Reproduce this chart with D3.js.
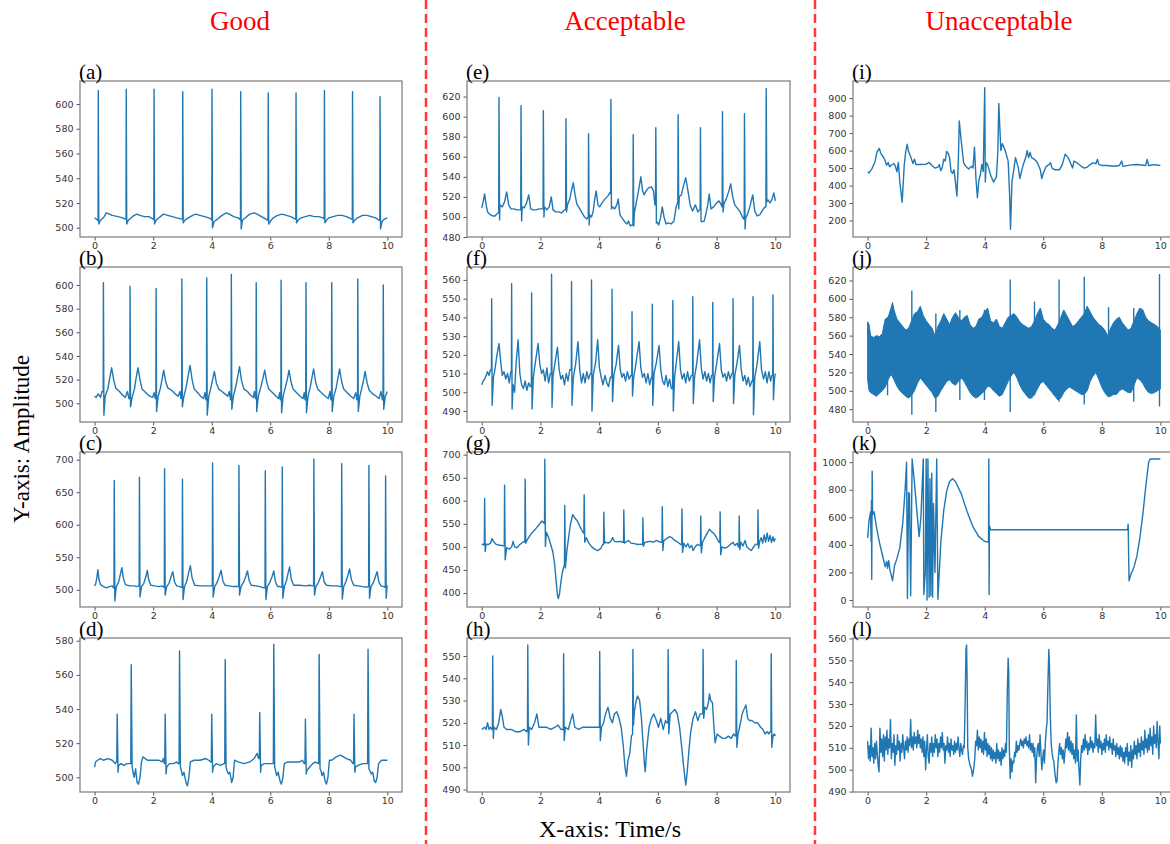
<!DOCTYPE html>
<html>
<head>
<meta charset="utf-8">
<script src="https://cdn.jsdelivr.net/npm/d3@7"></script>
<style>
  body { margin: 0; background: #fff; }
  svg { display: block; }
</style>
</head>
<body>
<div id="chart"></div>
<script>
// ---- data ----
const xTicks = [0, 2, 4, 6, 8, 10];
const columnTitles = ['Good', 'Acceptable', 'Unacceptable'];
const panelNames = ['a', 'b', 'c', 'd', 'e', 'f', 'g', 'h', 'i', 'j', 'k', 'l'];

// y limits and tick labels of each panel
const yDomainA = [492.5, 618.6], yTicksA = [500, 520, 540, 560, 580, 600];
const yDomainB = [484.2, 615.2], yTicksB = [500, 520, 540, 560, 580, 600];
const yDomainC = [473.6, 711.8], yTicksC = [500, 550, 600, 650, 700];
const yDomainD = [491.4, 581.6], yTicksD = [500, 520, 540, 560, 580];
const yDomainE = [480, 635.5], yTicksE = [480, 500, 520, 540, 560, 580, 600, 620];
const yDomainF = [484.1, 566.9], yTicksF = [490, 500, 510, 520, 530, 540, 550, 560];
const yDomainG = [369.5, 705.8], yTicksG = [400, 450, 500, 550, 600, 650, 700];
const yDomainH = [488.9, 558.1], yTicksH = [490, 500, 510, 520, 530, 540, 550];
const yDomainI = [105.7, 998], yTicksI = [200, 300, 400, 500, 600, 700, 800, 900];
const yDomainJ = [466, 634.7], yTicksJ = [480, 500, 520, 540, 560, 580, 600, 620];
const yDomainK = [-51, 1074], yTicksK = [0, 200, 400, 600, 800, 1000];
const yDomainL = [489.8, 560.2], yTicksL = [490, 500, 510, 520, 530, 540, 550, 560];

// beats: [time, value before, R peak, S dip]; waves: [time, value]
const beatsA = [[0.125, 506, 611, 503], [1.08, 507, 612, 503], [2.03, 507, 612, 503], [3.01, 507, 610, 504],
  [4.01, 506, 612, 500], [4.99, 506, 610, 499], [5.93, 507, 609, 503], [6.88, 507, 609, 504],
  [7.85, 507, 611, 504], [8.81, 507, 610, 504], [9.75, 506, 606, 499]];
const waveA = [[0, 508], [0.05, 507], [0.1, 506],
  [0.2, 506], [0.3, 508], [0.4, 512], [0.5, 511], [0.6, 510], [0.8, 509], [0.95, 508], [1.05, 507],
  [1.15, 506], [1.25, 508], [1.35, 510], [1.45, 511], [1.55, 510], [1.7, 509], [1.85, 509], [2.0, 507],
  [2.1, 506], [2.2, 508], [2.35, 511], [2.5, 510], [2.65, 509], [2.8, 508], [2.98, 507],
  [3.08, 506], [3.2, 508], [3.35, 510], [3.45, 511], [3.6, 510], [3.75, 509], [3.9, 508], [3.98, 507],
  [4.08, 505], [4.2, 507], [4.35, 510], [4.5, 512], [4.6, 511], [4.75, 509], [4.9, 508], [4.96, 507],
  [5.05, 506], [5.15, 508], [5.3, 511], [5.45, 512], [5.55, 511], [5.7, 509], [5.85, 507], [5.9, 506],
  [6.0, 505], [6.1, 508], [6.25, 510], [6.4, 511], [6.55, 510], [6.7, 509], [6.85, 507],
  [6.95, 506], [7.05, 508], [7.2, 509], [7.35, 510], [7.5, 509], [7.65, 509], [7.8, 508],
  [7.92, 506], [8.0, 508], [8.15, 509], [8.3, 510], [8.45, 510], [8.6, 509], [8.78, 507],
  [8.88, 506], [8.98, 508], [9.15, 510], [9.3, 510], [9.45, 509], [9.6, 508], [9.72, 506],
  [9.82, 505], [9.9, 507], [10.0, 508]];

const beatsB = [[0.30, 510, 602, 490], [1.21, 504, 599, 497], [2.10, 504, 597, 493], [2.98, 504, 605, 497],
  [3.83, 503, 606, 490], [4.67, 503, 609, 495], [5.52, 504, 602, 493], [6.37, 503, 604, 492],
  [7.22, 503, 602, 492], [8.10, 503, 602, 493], [8.99, 503, 605, 493], [9.86, 503, 600, 495]];
const waveB = [[0, 506], [0.05, 505], [0.12, 508], [0.2, 505], [0.25, 510],
  [0.36, 506], [0.45, 512], [0.52, 522], [0.58, 530], [0.65, 520], [0.72, 513], [0.85, 510], [0.95, 507], [1.05, 505], [1.12, 510], [1.17, 504],
  [1.28, 505], [1.36, 512], [1.42, 522], [1.48, 530], [1.55, 520], [1.62, 512], [1.75, 509], [1.88, 506], [1.98, 505], [2.03, 509], [2.07, 504],
  [2.17, 506], [2.25, 513], [2.31, 521], [2.36, 528], [2.43, 518], [2.5, 513], [2.63, 511], [2.75, 508], [2.85, 506], [2.92, 510], [2.95, 504],
  [3.05, 506], [3.13, 514], [3.2, 524], [3.26, 532], [3.33, 520], [3.4, 512], [3.52, 509], [3.62, 506], [3.72, 504], [3.77, 509], [3.8, 503],
  [3.9, 506], [3.97, 513], [4.03, 520], [4.09, 527], [4.16, 517], [4.24, 512], [4.35, 510], [4.45, 508], [4.55, 506], [4.6, 510], [4.64, 503],
  [4.74, 506], [4.82, 514], [4.89, 523], [4.95, 531], [5.02, 519], [5.1, 512], [5.22, 510], [5.32, 507], [5.42, 505], [5.46, 510], [5.49, 504],
  [5.59, 506], [5.67, 513], [5.74, 520], [5.81, 528], [5.88, 518], [5.95, 512], [6.08, 509], [6.2, 506], [6.28, 504], [6.32, 509], [6.34, 503],
  [6.44, 506], [6.51, 513], [6.58, 520], [6.64, 528], [6.71, 518], [6.78, 512], [6.9, 509], [7.02, 506], [7.12, 504], [7.16, 509], [7.19, 503],
  [7.29, 506], [7.36, 513], [7.42, 521], [7.48, 529], [7.55, 518], [7.62, 512], [7.75, 509], [7.88, 506], [7.98, 504], [8.04, 510], [8.07, 503],
  [8.17, 506], [8.25, 513], [8.31, 521], [8.37, 529], [8.44, 518], [8.51, 512], [8.63, 509], [8.75, 506], [8.85, 504], [8.92, 509], [8.96, 503],
  [9.06, 506], [9.13, 513], [9.19, 520], [9.24, 527], [9.31, 517], [9.38, 511], [9.5, 508], [9.62, 506], [9.72, 504], [9.78, 510], [9.83, 503],
  [9.93, 506], [10.0, 510]];

const beatsC = [[0.67, 503, 668, 483], [1.53, 506, 673, 489], [2.39, 504, 686, 492], [3.00, 504, 670, 485],
  [4.03, 506, 695, 489], [4.93, 505, 691, 492], [5.83, 503, 683, 485], [6.41, 504, 689, 487],
  [7.49, 506, 701, 492], [8.44, 505, 694, 486], [9.37, 505, 691, 487], [9.94, 504, 675, 487]];
const waveC = [[0, 506], [0.04, 510], [0.08, 520], [0.11, 531], [0.15, 515], [0.2, 508], [0.3, 505], [0.4, 503], [0.5, 505], [0.6, 506], [0.64, 503],
  [0.74, 505], [0.82, 512], [0.88, 524], [0.93, 534], [0.98, 518], [1.05, 508], [1.2, 506], [1.35, 506], [1.45, 505], [1.5, 506],
  [1.6, 505], [1.68, 510], [1.75, 520], [1.80, 530], [1.85, 515], [1.92, 507], [2.05, 506], [2.2, 505], [2.3, 506], [2.36, 504],
  [2.46, 505], [2.54, 510], [2.61, 520], [2.67, 528], [2.73, 512], [2.8, 506], [2.9, 505], [2.97, 504],
  [3.07, 505], [3.14, 512], [3.21, 526], [3.27, 537], [3.33, 518], [3.42, 507], [3.6, 506], [3.8, 506], [3.95, 506], [4.0, 506],
  [4.1, 505], [4.18, 511], [4.26, 521], [4.32, 530], [4.38, 514], [4.45, 507], [4.6, 506], [4.75, 505], [4.88, 505],
  [5.0, 505], [5.08, 511], [5.16, 520], [5.22, 529], [5.28, 514], [5.35, 507], [5.5, 506], [5.65, 505], [5.78, 503],
  [5.9, 505], [5.98, 511], [6.06, 520], [6.12, 529], [6.18, 512], [6.25, 505], [6.33, 505], [6.38, 504],
  [6.48, 505], [6.55, 513], [6.61, 526], [6.66, 535], [6.72, 516], [6.8, 507], [7.0, 507], [7.2, 506], [7.35, 507], [7.46, 506],
  [7.56, 505], [7.64, 511], [7.72, 520], [7.78, 528], [7.84, 512], [7.92, 507], [8.1, 506], [8.3, 506], [8.4, 505],
  [8.51, 505], [8.58, 512], [8.65, 522], [8.71, 532], [8.77, 516], [8.85, 507], [9.0, 506], [9.15, 505], [9.3, 504], [9.34, 505],
  [9.44, 505], [9.52, 511], [9.59, 520], [9.65, 528], [9.71, 512], [9.78, 506], [9.88, 505], [9.91, 504],
  [9.99, 506], [10.0, 507]];

const beatsD = [[0.77, 509, 537, 503], [1.25, 508, 566, 507], [2.41, 508, 537, 502], [2.90, 508, 574, 506],
  [4.0, 509, 537, 503], [4.46, 508, 569, 506], [5.64, 511, 538, 503], [6.12, 508, 578, 506],
  [7.2, 508, 534, 502], [7.67, 508, 572, 505], [8.86, 508, 537, 503], [9.34, 508, 575, 505]];
const waveD = [[0, 506], [0.03, 509], [0.1, 510], [0.2, 511], [0.3, 510], [0.45, 511], [0.6, 510], [0.7, 508], [0.74, 509],
  [0.82, 507], [0.9, 508], [1.0, 507], [1.1, 508], [1.2, 508],
  [1.3, 504], [1.35, 500], [1.4, 505], [1.45, 497], [1.5, 496], [1.55, 500], [1.6, 509], [1.65, 512], [1.8, 510], [2.0, 510], [2.2, 510], [2.3, 509], [2.35, 511], [2.38, 508],
  [2.46, 506], [2.55, 508], [2.7, 508], [2.8, 509], [2.86, 508],
  [2.96, 504], [3.0, 501], [3.05, 503], [3.12, 497], [3.17, 495], [3.22, 500], [3.27, 509], [3.4, 510], [3.6, 510], [3.8, 511], [3.9, 510], [3.97, 509],
  [4.05, 506], [4.15, 508], [4.3, 507], [4.42, 508],
  [4.52, 504], [4.57, 502], [4.62, 503], [4.68, 497], [4.73, 500], [4.78, 510], [4.9, 509], [5.1, 508], [5.3, 509], [5.45, 511], [5.55, 514], [5.6, 511],
  [5.69, 507], [5.8, 508], [5.95, 508], [6.08, 508],
  [6.18, 504], [6.22, 501], [6.27, 503], [6.33, 498], [6.38, 496], [6.43, 500], [6.48, 508], [6.6, 509], [6.8, 509], [7.0, 509], [7.1, 510], [7.16, 508],
  [7.25, 504], [7.35, 506], [7.45, 508], [7.55, 509], [7.63, 508],
  [7.73, 504], [7.77, 501], [7.82, 503], [7.87, 498], [7.92, 496], [7.97, 500], [8.02, 510], [8.1, 510], [8.25, 512], [8.4, 513], [8.6, 511], [8.75, 510], [8.82, 508],
  [8.91, 506], [9.0, 507], [9.15, 508], [9.3, 508],
  [9.4, 504], [9.45, 502], [9.5, 503], [9.55, 498], [9.6, 497], [9.65, 500], [9.7, 508], [9.8, 510], [9.9, 510], [10.0, 510]];

const beatsE = [[0.59, 505, 619, 497], [1.34, 507, 611, 496], [2.10, 508, 606, 500], [2.87, 508, 598, 505],
  [3.64, 500, 583, 492], [4.40, 523, 617, 508], [5.16, 492, 582, 491], [5.93, 512, 589, 494],
  [6.69, 515, 602, 508], [7.45, 508, 589, 496], [8.20, 510, 605, 505], [8.95, 498, 603, 488], [9.69, 510, 628, 515]];
const waveE = [[0, 509], [0.05, 515], [0.1, 523], [0.15, 512], [0.2, 505], [0.3, 502], [0.38, 501], [0.45, 501], [0.52, 503], [0.56, 504],
  [0.62, 512], [0.7, 510], [0.78, 515], [0.85, 525], [0.92, 512], [1.0, 508], [1.1, 508], [1.2, 507], [1.3, 507],
  [1.38, 510], [1.45, 509], [1.53, 514], [1.6, 522], [1.67, 508], [1.75, 507], [1.85, 507], [1.95, 508], [2.05, 508],
  [2.14, 510], [2.22, 507], [2.3, 510], [2.37, 520], [2.43, 507], [2.52, 505], [2.62, 505], [2.72, 504], [2.82, 507],
  [2.92, 512], [3.0, 518], [3.07, 528], [3.12, 534], [3.18, 522], [3.24, 513], [3.32, 509], [3.4, 505], [3.5, 500], [3.58, 498],
  [3.68, 502], [3.74, 500], [3.8, 506], [3.85, 518], [3.9, 526], [3.96, 512], [4.02, 510], [4.1, 514], [4.2, 518], [4.3, 521], [4.36, 524],
  [4.45, 510], [4.53, 508], [4.6, 512], [4.65, 518], [4.71, 502], [4.8, 498], [4.88, 495], [4.95, 493], [5.0, 496], [5.06, 491], [5.12, 492],
  [5.2, 504], [5.27, 515], [5.34, 526], [5.42, 540], [5.48, 526], [5.53, 522], [5.6, 526], [5.68, 529], [5.78, 530], [5.85, 526], [5.9, 512],
  [5.97, 495], [6.03, 492], [6.09, 499], [6.15, 510], [6.21, 500], [6.28, 493], [6.35, 494], [6.45, 493], [6.55, 496], [6.62, 510],
  [6.73, 520], [6.8, 522], [6.88, 532], [6.95, 539], [7.02, 527], [7.1, 512], [7.18, 506], [7.28, 512], [7.36, 505], [7.42, 507],
  [7.5, 495], [7.58, 496], [7.65, 505], [7.7, 512], [7.75, 523], [7.81, 508], [7.9, 510], [8.0, 514], [8.08, 516], [8.16, 512],
  [8.25, 513], [8.33, 518], [8.42, 526], [8.48, 533], [8.55, 520], [8.62, 512], [8.7, 509], [8.8, 505], [8.88, 500], [8.92, 498],
  [8.99, 499], [9.06, 503], [9.14, 511], [9.23, 522], [9.3, 506], [9.38, 501], [9.47, 502], [9.55, 506], [9.62, 509], [9.66, 510],
  [9.75, 517], [9.82, 514], [9.88, 517], [9.95, 524], [10.0, 516]];

const beatsF = [[0.34, 512, 550, 493], [1.02, 511, 558, 491], [1.70, 503, 553, 491], [2.38, 510, 563, 492],
  [3.06, 512, 559, 493], [3.74, 510, 560, 490], [4.44, 508, 555, 495], [5.12, 509, 543, 498],
  [5.81, 508, 547, 493], [6.51, 502, 549, 490], [7.19, 509, 551, 494], [7.87, 509, 548, 495],
  [8.56, 510, 550, 494], [9.24, 506, 551, 488], [9.92, 509, 552, 496]];
const waveF = [[0, 504], [0.05, 506], [0.1, 507], [0.15, 509], [0.2, 511], [0.25, 509], [0.3, 512],
  [0.4, 508], [0.45, 512], [0.52, 520], [0.59, 526], [0.65, 516], [0.7, 509], [0.76, 511], [0.82, 507], [0.88, 510], [0.94, 505], [0.99, 511],
  [1.07, 504], [1.12, 500], [1.17, 515], [1.24, 528], [1.3, 510], [1.36, 504], [1.42, 502], [1.48, 506], [1.54, 501], [1.6, 505], [1.66, 503],
  [1.76, 508], [1.82, 515], [1.92, 526], [1.98, 515], [2.04, 510], [2.1, 512], [2.16, 506], [2.22, 513], [2.28, 505], [2.34, 510],
  [2.43, 509], [2.5, 516], [2.58, 524], [2.64, 512], [2.7, 507], [2.76, 509], [2.82, 504], [2.88, 510], [2.94, 506], [3.0, 512],
  [3.12, 508], [3.2, 515], [3.28, 527], [3.34, 512], [3.4, 505], [3.46, 510], [3.52, 505], [3.58, 511], [3.64, 507], [3.7, 510],
  [3.8, 509], [3.88, 516], [3.95, 528], [4.01, 513], [4.07, 508], [4.13, 504], [4.2, 509], [4.26, 505], [4.32, 503], [4.38, 508],
  [4.5, 509], [4.58, 515], [4.66, 525], [4.72, 512], [4.78, 508], [4.84, 510], [4.9, 506], [4.96, 511], [5.02, 507], [5.08, 509],
  [5.17, 507], [5.25, 515], [5.36, 527], [5.42, 513], [5.48, 508], [5.54, 510], [5.6, 505], [5.66, 510], [5.72, 504], [5.78, 508],
  [5.87, 510], [5.95, 516], [6.04, 525], [6.1, 512], [6.16, 506], [6.22, 504], [6.28, 509], [6.34, 503], [6.4, 507], [6.46, 502],
  [6.57, 508], [6.63, 516], [6.71, 527], [6.77, 512], [6.83, 507], [6.89, 510], [6.95, 505], [7.01, 511], [7.07, 506], [7.14, 509],
  [7.25, 508], [7.32, 515], [7.42, 528], [7.48, 513], [7.54, 507], [7.6, 511], [7.66, 506], [7.72, 510], [7.78, 505], [7.83, 509],
  [7.93, 508], [8.0, 515], [8.1, 526], [8.16, 512], [8.22, 508], [8.28, 510], [8.34, 506], [8.4, 511], [8.46, 507], [8.52, 510],
  [8.62, 509], [8.7, 516], [8.78, 525], [8.84, 512], [8.9, 506], [8.96, 509], [9.02, 504], [9.08, 508], [9.14, 503], [9.2, 506],
  [9.3, 508], [9.38, 515], [9.47, 527], [9.53, 512], [9.6, 507], [9.66, 511], [9.72, 505], [9.78, 511], [9.84, 506], [9.88, 509],
  [9.97, 507], [10.0, 510]];

const beatsG = [[0.10, 505, 605, 490], [0.78, 503, 634, 472], [1.48, 510, 647, 508], [2.15, 550, 690, 501],
  [2.83, 460, 590, 454], [3.49, 530, 613, 510], [4.16, 505, 575, 508], [4.84, 510, 580, 508],
  [5.49, 505, 563, 501], [6.15, 510, 587, 492], [6.82, 505, 582, 488], [7.46, 503, 567, 487],
  [8.12, 510, 576, 483], [8.77, 500, 567, 494], [9.41, 505, 580, 497]];
const waveG = [[0, 505], [0.05, 506], [0.07, 504],
  [0.15, 506], [0.22, 505], [0.3, 508], [0.35, 518], [0.4, 512], [0.48, 506], [0.58, 504], [0.68, 503], [0.75, 502],
  [0.85, 498], [0.95, 495], [1.02, 500], [1.07, 512], [1.12, 500], [1.2, 498], [1.3, 505], [1.4, 510], [1.45, 512],
  [1.55, 515], [1.62, 522], [1.7, 530], [1.78, 535], [1.85, 540], [1.95, 548], [2.05, 556], [2.12, 552],
  [2.2, 532], [2.28, 520], [2.35, 505], [2.42, 490], [2.48, 465], [2.53, 430], [2.58, 395], [2.61, 388], [2.65, 398], [2.7, 425], [2.75, 445], [2.8, 458],
  [2.9, 490], [2.96, 520], [3.02, 548], [3.1, 570], [3.18, 562], [3.26, 556], [3.34, 545], [3.42, 535], [3.46, 530],
  [3.56, 520], [3.65, 508], [3.75, 500], [3.85, 495], [3.95, 492], [4.05, 496], [4.12, 505],
  [4.22, 510], [4.32, 508], [4.4, 512], [4.46, 520], [4.52, 512], [4.62, 511], [4.72, 512], [4.8, 510],
  [4.9, 510], [5.0, 514], [5.08, 508], [5.2, 507], [5.32, 505], [5.42, 506], [5.46, 505],
  [5.55, 509], [5.65, 511], [5.75, 512], [5.85, 510], [5.95, 514], [6.05, 511], [6.12, 510],
  [6.2, 513], [6.3, 518], [6.4, 522], [6.48, 520], [6.58, 514], [6.68, 510], [6.78, 505],
  [6.88, 508], [6.95, 500], [7.02, 507], [7.08, 498], [7.15, 503], [7.2, 492], [7.27, 500], [7.35, 505], [7.42, 503],
  [7.52, 510], [7.6, 520], [7.7, 532], [7.76, 538], [7.83, 533], [7.92, 528], [8.0, 520], [8.08, 510],
  [8.18, 500], [8.28, 497], [8.38, 500], [8.48, 506], [8.56, 510], [8.62, 503], [8.7, 508], [8.74, 500],
  [8.83, 510], [8.9, 502], [8.97, 514], [9.03, 500], [9.1, 496], [9.18, 492], [9.26, 500], [9.33, 506], [9.38, 505],
  [9.47, 512], [9.52, 520], [9.57, 508], [9.62, 526], [9.67, 510], [9.72, 530], [9.77, 512], [9.82, 525], [9.87, 510], [9.92, 522], [9.96, 512], [10.0, 518]];

const beatsH = [[0.375, 517, 550, 513], [1.57, 517, 555, 510], [2.79, 517, 551, 512], [4.02, 518, 552, 512],
  [5.15, 515, 553, 519], [6.35, 520, 553, 515], [7.54, 524, 553, 522], [8.67, 515, 548, 509], [9.86, 516, 551, 509]];
const waveH = [[0, 517], [0.1, 518], [0.15, 517], [0.2, 520], [0.25, 517], [0.3, 518], [0.34, 517],
  [0.42, 518], [0.5, 517], [0.58, 520], [0.65, 526], [0.7, 523], [0.76, 518], [0.85, 517], [1.0, 517], [1.15, 516], [1.3, 516], [1.45, 517], [1.53, 516],
  [1.62, 518], [1.7, 517], [1.8, 520], [1.88, 524], [1.95, 518], [2.05, 518], [2.2, 518], [2.35, 517], [2.5, 518], [2.6, 519], [2.7, 517], [2.75, 517],
  [2.85, 518], [2.95, 517], [3.03, 521], [3.1, 524], [3.17, 518], [3.3, 517], [3.45, 518], [3.6, 518], [3.75, 518], [3.9, 518], [3.98, 518],
  [4.08, 518], [4.15, 520], [4.22, 524], [4.3, 527], [4.38, 522], [4.45, 520], [4.52, 524], [4.6, 525], [4.68, 522], [4.75, 518], [4.82, 510], [4.88, 500], [4.93, 496], [4.98, 503], [5.04, 506], [5.1, 514],
  [5.2, 525], [5.26, 530], [5.31, 532], [5.38, 530], [5.44, 522], [5.5, 510], [5.54, 502], [5.57, 498], [5.62, 508], [5.7, 518], [5.78, 522], [5.86, 524], [5.95, 521], [6.02, 518], [6.1, 522], [6.18, 517], [6.26, 521], [6.31, 520],
  [6.42, 524], [6.5, 525], [6.58, 526], [6.66, 524], [6.74, 518], [6.82, 508], [6.88, 500], [6.95, 492], [7.0, 498], [7.06, 508], [7.12, 516], [7.2, 522], [7.28, 525], [7.36, 521], [7.44, 524], [7.5, 524],
  [7.6, 527], [7.66, 526], [7.72, 529], [7.76, 533], [7.8, 530], [7.86, 529], [7.9, 520], [7.95, 511], [8.02, 515], [8.1, 514], [8.2, 513], [8.3, 513], [8.4, 514], [8.5, 513], [8.58, 515], [8.63, 514],
  [8.73, 515], [8.8, 519], [8.87, 524], [8.93, 526], [9.0, 528], [9.06, 522], [9.12, 521], [9.2, 521], [9.3, 520], [9.4, 520], [9.5, 518], [9.58, 517], [9.65, 515], [9.72, 516], [9.78, 515], [9.82, 516],
  [9.92, 514], [9.96, 515], [10.0, 514]];

const waveI = [[0, 478], [0.05, 472], [0.15, 497], [0.25, 535], [0.32, 593], [0.4, 612], [0.45, 584], [0.55, 559], [0.6, 540],
  [0.65, 516], [0.7, 532], [0.75, 507], [0.8, 516], [0.9, 526], [0.95, 510], [1.0, 478], [1.05, 532], [1.1, 420], [1.18, 304],
  [1.25, 516], [1.3, 593], [1.35, 636], [1.4, 593], [1.45, 574], [1.55, 526], [1.6, 551], [1.65, 520], [1.8, 520], [2.0, 522],
  [2.1, 532], [2.2, 515], [2.3, 500], [2.4, 505], [2.45, 520], [2.5, 485], [2.55, 505], [2.6, 550], [2.65, 540], [2.7, 595],
  [2.75, 585], [2.8, 560], [2.85, 480], [2.9, 470], [2.95, 490], [3.0, 420], [3.05, 340], [3.1, 550], [3.13, 770], [3.2, 650],
  [3.28, 530], [3.35, 510], [3.45, 495], [3.55, 510], [3.6, 500], [3.65, 620], [3.7, 440], [3.75, 330], [3.8, 430], [3.85, 460],
  [3.9, 520], [3.95, 480], [4.0, 960], [4.02, 420], [4.05, 530], [4.1, 520], [4.2, 460], [4.3, 420], [4.4, 450], [4.45, 600],
  [4.48, 870], [4.55, 600], [4.6, 640], [4.7, 600], [4.8, 540], [4.85, 350], [4.88, 150], [4.93, 420], [5.0, 500], [5.05, 560],
  [5.15, 500], [5.2, 440], [5.3, 510], [5.4, 560], [5.45, 600], [5.5, 560], [5.55, 590], [5.6, 560], [5.7, 550], [5.8, 530],
  [5.9, 490], [5.95, 440], [6.0, 470], [6.1, 510], [6.2, 520], [6.25, 530], [6.3, 500], [6.4, 490], [6.55, 490], [6.65, 520],
  [6.75, 580], [6.85, 560], [6.95, 520], [7.0, 500], [7.05, 540], [7.15, 530], [7.3, 510], [7.4, 500], [7.5, 505], [7.6, 520],
  [7.7, 530], [7.8, 525], [7.85, 550], [7.9, 520], [8.0, 515], [8.2, 515], [8.4, 510], [8.6, 515], [8.68, 540], [8.72, 510],
  [9.0, 518], [9.2, 520], [9.5, 515], [9.55, 550], [9.6, 515], [9.8, 520], [10.0, 515]];

// (j) dense noise band: [time, lower edge, upper edge] plus spikes [time, low, high]
const bandJ = [[0.0, 512, 575], [0.05, 500, 572], [0.1, 498, 560], [0.2, 496, 558], [0.3, 494, 560], [0.4, 497, 559],
  [0.5, 500, 562], [0.6, 504, 578], [0.7, 512, 580], [0.8, 518, 590], [0.85, 515, 596], [0.9, 512, 588], [1.0, 505, 578],
  [1.1, 500, 574], [1.2, 497, 570], [1.3, 494, 566], [1.4, 492, 568], [1.5, 495, 576], [1.6, 500, 584], [1.7, 508, 586],
  [1.8, 514, 592], [1.9, 510, 582], [2.0, 506, 576], [2.1, 502, 572], [2.2, 498, 568], [2.3, 492, 560], [2.4, 494, 570],
  [2.5, 500, 576], [2.6, 505, 584], [2.7, 510, 578], [2.8, 512, 572], [2.9, 508, 580], [3.0, 506, 585], [3.1, 510, 580],
  [3.2, 514, 576], [3.3, 510, 580], [3.4, 504, 582], [3.5, 498, 572], [3.6, 494, 568], [3.7, 492, 570], [3.8, 494, 578],
  [3.9, 497, 580], [4.0, 500, 586], [4.1, 505, 590], [4.2, 504, 576], [4.3, 500, 574], [4.4, 497, 578], [4.5, 494, 570],
  [4.6, 496, 568], [4.7, 503, 574], [4.8, 510, 580], [4.9, 516, 582], [5.0, 520, 584], [5.1, 514, 580], [5.2, 506, 575],
  [5.3, 500, 572], [5.4, 496, 570], [5.5, 492, 568], [5.6, 492, 570], [5.7, 496, 576], [5.8, 502, 584], [5.9, 508, 590],
  [6.0, 510, 578], [6.1, 506, 574], [6.2, 502, 572], [6.3, 498, 568], [6.4, 494, 566], [6.5, 490, 572], [6.6, 492, 580],
  [6.7, 498, 588], [6.8, 502, 582], [6.9, 504, 576], [7.0, 502, 570], [7.1, 500, 572], [7.2, 498, 576], [7.3, 496, 580],
  [7.4, 496, 584], [7.5, 500, 592], [7.6, 510, 586], [7.7, 516, 580], [7.8, 520, 576], [7.9, 512, 572], [8.0, 504, 570],
  [8.1, 498, 566], [8.2, 494, 560], [8.3, 494, 568], [8.4, 496, 574], [8.5, 496, 578], [8.6, 500, 580], [8.7, 502, 574],
  [8.8, 500, 570], [8.9, 498, 566], [9.0, 498, 568], [9.1, 506, 576], [9.2, 514, 584], [9.3, 512, 590], [9.4, 508, 588],
  [9.5, 502, 580], [9.6, 498, 576], [9.7, 497, 574], [9.8, 498, 572], [9.9, 500, 570], [10.0, 502, 566]];
const spikesJ = [[0.68, 495, 580], [1.51, 474, 609], [2.33, 477, 584], [3.15, 490, 588], [3.99, 490, 588], [4.87, 477, 621],
  [5.70, 495, 597], [6.54, 488, 621], [7.40, 485, 624], [8.23, 493, 591], [9.09, 488, 590], [9.97, 483, 627]];

const waveK = [[0, 450], [0.05, 580], [0.1, 640], [0.12, 420], [0.13, 720], [0.14, 150], [0.155, 935], [0.17, 620], [0.22, 640],
  [0.3, 530], [0.4, 420], [0.5, 330], [0.6, 240], [0.65, 280], [0.68, 230], [0.72, 285], [0.76, 220], [0.85, 140], [0.92, 250],
  [1.0, 300], [1.1, 380], [1.2, 560], [1.28, 800], [1.33, 1000], [1.36, 10], [1.4, 780], [1.43, 770], [1.47, 30], [1.52, 1023],
  [1.6, 850], [1.7, 600], [1.76, 460], [1.82, 600], [1.9, 1023], [1.92, 40], [1.97, 200], [2.0, 1023], [2.03, 0], [2.06, 1023],
  [2.1, 20], [2.13, 880], [2.16, 30], [2.19, 920], [2.22, 20], [2.25, 700], [2.3, 200], [2.36, 1023], [2.4, 5], [2.5, 420],
  [2.6, 650], [2.7, 790], [2.8, 860], [2.9, 880], [3.0, 860], [3.2, 770], [3.4, 640], [3.6, 530], [3.8, 460], [4.0, 425],
  [4.1, 420], [4.13, 430], [4.14, 1023], [4.15, 40], [4.16, 540], [4.2, 510], [8.88, 510], [8.9, 550], [8.93, 140],
  [9.0, 190], [9.1, 240], [9.2, 320], [9.3, 450], [9.4, 620], [9.5, 820], [9.6, 1000], [9.65, 1023], [10.0, 1023]];

const waveL = [[0.00, 513], [0.03, 505], [0.06, 511], [0.09, 504], [0.12, 519], [0.15, 506], [0.18, 510], [0.21, 503], [0.24, 512],
  [0.27, 505], [0.30, 513], [0.33, 507], [0.36, 502], [0.39, 499], [0.42, 519], [0.45, 508], [0.48, 514], [0.51, 506], [0.54, 516],
  [0.57, 504], [0.60, 515], [0.63, 509], [0.66, 518], [0.69, 507], [0.72, 514], [0.75, 510], [0.78, 523], [0.81, 505], [0.84, 512],
  [0.87, 508], [0.90, 516], [0.93, 502], [0.96, 511], [0.99, 507], [1.02, 516], [1.05, 509], [1.08, 513], [1.11, 504], [1.14, 512],
  [1.17, 508], [1.20, 516], [1.23, 510], [1.26, 505], [1.29, 513], [1.32, 509], [1.35, 515], [1.38, 508], [1.41, 514], [1.44, 511],
  [1.47, 523], [1.50, 510], [1.53, 515], [1.56, 509], [1.59, 517], [1.62, 512], [1.65, 515], [1.68, 510], [1.71, 518], [1.74, 512],
  [1.77, 516], [1.80, 510], [1.83, 514], [1.86, 508], [1.89, 515], [1.92, 506], [1.95, 513], [1.98, 500], [2.01, 509], [2.04, 516],
  [2.07, 506], [2.10, 503], [2.13, 512], [2.16, 508], [2.19, 515], [2.22, 506], [2.25, 512], [2.28, 508], [2.31, 516], [2.34, 510],
  [2.37, 514], [2.40, 506], [2.43, 512], [2.46, 508], [2.49, 515], [2.52, 510], [2.55, 517], [2.58, 509], [2.61, 512], [2.64, 503],
  [2.67, 511], [2.70, 509], [2.73, 515], [2.76, 508], [2.79, 512], [2.82, 506], [2.85, 514], [2.88, 509], [2.91, 511], [2.94, 507],
  [2.97, 513], [3.00, 508], [3.03, 512], [3.06, 509], [3.09, 515], [3.12, 510], [3.15, 506], [3.18, 512], [3.21, 509], [3.24, 507],
  [3.27, 511], [3.30, 510], [3.33, 530], [3.36, 555], [3.38, 557], [3.40, 540], [3.42, 510], [3.45, 505], [3.50, 502], [3.55, 500],
  [3.58, 497], [3.62, 500], [3.66, 505], [3.69, 513], [3.72, 511], [3.75, 518], [3.78, 509], [3.81, 515], [3.84, 510], [3.87, 514],
  [3.90, 508], [3.93, 513], [3.96, 507], [3.99, 517], [4.02, 509], [4.05, 514], [4.08, 506], [4.11, 512], [4.14, 507], [4.17, 511],
  [4.20, 505], [4.23, 510], [4.26, 504], [4.29, 509], [4.32, 505], [4.35, 508], [4.38, 503], [4.41, 512], [4.44, 505], [4.47, 509],
  [4.50, 504], [4.53, 508], [4.56, 502], [4.59, 510], [4.62, 505], [4.65, 509], [4.68, 506], [4.71, 512], [4.74, 508], [4.77, 535],
  [4.80, 551], [4.82, 545], [4.84, 510], [4.87, 496], [4.90, 505], [4.93, 499], [4.96, 504], [4.99, 503], [5.02, 508], [5.05, 506],
  [5.08, 513], [5.11, 508], [5.14, 511], [5.17, 509], [5.20, 512], [5.23, 514], [5.26, 511], [5.29, 513], [5.32, 510], [5.35, 514],
  [5.38, 512], [5.41, 515], [5.44, 511], [5.47, 513], [5.50, 510], [5.53, 516], [5.56, 509], [5.59, 512], [5.62, 508], [5.65, 512],
  [5.68, 506], [5.71, 510], [5.74, 494], [5.77, 505], [5.80, 510], [5.83, 512], [5.86, 506], [5.89, 516], [5.92, 508], [5.95, 500],
  [5.98, 505], [6.01, 509], [6.04, 503], [6.07, 512], [6.10, 518], [6.13, 522], [6.16, 540], [6.19, 555], [6.21, 548], [6.24, 525],
  [6.27, 512], [6.30, 508], [6.33, 505], [6.36, 504], [6.40, 498], [6.44, 494], [6.47, 495], [6.50, 503], [6.53, 508], [6.56, 512],
  [6.59, 507], [6.62, 510], [6.65, 505], [6.68, 509], [6.71, 503], [6.74, 508], [6.77, 514], [6.80, 510], [6.83, 517], [6.86, 509],
  [6.89, 515], [6.92, 508], [6.95, 513], [6.98, 507], [7.01, 512], [7.04, 505], [7.07, 509], [7.10, 503], [7.13, 525], [7.16, 504],
  [7.19, 509], [7.22, 500], [7.25, 493], [7.28, 505], [7.31, 511], [7.34, 508], [7.37, 514], [7.40, 509], [7.43, 516], [7.46, 510],
  [7.49, 513], [7.52, 507], [7.55, 512], [7.58, 509], [7.61, 515], [7.64, 510], [7.67, 513], [7.70, 508], [7.73, 512], [7.76, 510],
  [7.79, 525], [7.82, 511], [7.85, 514], [7.88, 508], [7.91, 516], [7.94, 510], [7.97, 513], [8.00, 507], [8.03, 512], [8.06, 509],
  [8.09, 514], [8.12, 508], [8.15, 516], [8.18, 511], [8.21, 513], [8.24, 509], [8.27, 515], [8.30, 510], [8.33, 512], [8.36, 507],
  [8.39, 514], [8.42, 509], [8.45, 511], [8.48, 506], [8.51, 512], [8.54, 507], [8.57, 510], [8.60, 505], [8.63, 511], [8.66, 506],
  [8.69, 510], [8.72, 504], [8.75, 508], [8.78, 503], [8.81, 510], [8.84, 506], [8.87, 512], [8.90, 502], [8.93, 508], [8.96, 504],
  [8.99, 511], [9.02, 501], [9.05, 509], [9.08, 505], [9.11, 513], [9.14, 507], [9.17, 511], [9.20, 505], [9.23, 514], [9.26, 508],
  [9.29, 512], [9.32, 506], [9.35, 515], [9.38, 509], [9.41, 513], [9.44, 507], [9.47, 518], [9.50, 510], [9.53, 514], [9.56, 508],
  [9.59, 516], [9.62, 509], [9.65, 519], [9.68, 511], [9.71, 515], [9.74, 507], [9.77, 520], [9.80, 512], [9.83, 516], [9.86, 510],
  [9.89, 522], [9.92, 513], [9.95, 505], [9.98, 520], [10.0, 512]];

// ---- layout ----
const W = 1170, H = 844;
const colX = [[80, 402], [467, 790], [853, 1175]];
const rowY = [[81, 237], [267, 422], [452, 607], [638, 792]];
const colTitleX = [240, 625, 999];
const dividerX = [426, 815];
const lineColor = '#1f77b4';

const panels = [
  { wave: waveA, beats: beatsA, w: 0.008, dom: yDomainA, ticks: yTicksA },
  { wave: waveB, beats: beatsB, w: 0.008, dom: yDomainB, ticks: yTicksB },
  { wave: waveC, beats: beatsC, w: 0.01, dom: yDomainC, ticks: yTicksC },
  { wave: waveD, beats: beatsD, w: 0.015, dom: yDomainD, ticks: yTicksD },
  { wave: waveE, beats: beatsE, w: 0.01, dom: yDomainE, ticks: yTicksE },
  { wave: waveF, beats: beatsF, w: 0.008, dom: yDomainF, ticks: yTicksF },
  { wave: waveG, beats: beatsG, w: 0.01, dom: yDomainG, ticks: yTicksG },
  { wave: waveH, beats: beatsH, w: 0.01, dom: yDomainH, ticks: yTicksH },
  { wave: waveI, dom: yDomainI, ticks: yTicksI },
  { band: bandJ, spikes: spikesJ, dom: yDomainJ, ticks: yTicksJ },
  { wave: waveK, dom: yDomainK, ticks: yTicksK },
  { wave: waveL, dom: yDomainL, ticks: yTicksL }
];

// merge the baseline points with the spike points of each beat
function buildSeries(wave, beats, w) {
  const pts = wave.map(d => [d[0], d[1]]);
  (beats || []).forEach(b => {
    pts.push([b[0] - w, b[1]], [b[0], b[2]], [b[0] + 2 * w, b[3]]);
  });
  return pts.sort((p, q) => p[0] - q[0]);
}

const svg = d3.select('#chart').append('svg')
  .attr('width', W)
  .attr('height', H)
  .style('background', '#fff');

// dashed dividers
svg.selectAll('line.divider')
  .data(dividerX)
  .enter().append('line')
  .attr('class', 'divider')
  .attr('x1', d => d).attr('x2', d => d)
  .attr('y1', 0).attr('y2', H)
  .attr('stroke', '#ff3838')
  .attr('stroke-width', 2.5)
  .attr('stroke-dasharray', '9,5');

// column titles
svg.selectAll('text.coltitle')
  .data(columnTitles)
  .enter().append('text')
  .attr('class', 'coltitle')
  .attr('x', (d, i) => colTitleX[i])
  .attr('y', 30)
  .attr('text-anchor', 'middle')
  .style('font-family', '"Liberation Serif", "Times New Roman", serif')
  .style('font-size', '27px')
  .attr('fill', '#ff0000')
  .text(d => d);

panels.forEach((p, i) => {
  const col = Math.floor(i / 4), row = i % 4;
  const [x0, x1] = colX[col];
  const [y0, y1] = rowY[row];

  const x = d3.scaleLinear().domain([-0.5, 10.5]).range([x0, x1]);
  const y = d3.scaleLinear().domain(p.dom).range([y1, y0]);

  const g = svg.append('g');

  if (p.band) {
    const area = d3.area()
      .x(d => x(d[0]))
      .y0(d => y(d[1]))
      .y1(d => y(d[2]));
    g.append('path')
      .datum(p.band)
      .attr('d', area)
      .attr('fill', lineColor)
      .attr('stroke', lineColor)
      .attr('stroke-width', 1);
    g.selectAll('line.spike')
      .data(p.spikes)
      .enter().append('line')
      .attr('class', 'spike')
      .attr('x1', d => x(d[0])).attr('x2', d => x(d[0]))
      .attr('y1', d => y(d[1])).attr('y2', d => y(d[2]))
      .attr('stroke', lineColor)
      .attr('stroke-width', 1.4);
  } else {
    const line = d3.line()
      .x(d => x(d[0]))
      .y(d => y(d[1]));
    g.append('path')
      .datum(buildSeries(p.wave, p.beats, p.w))
      .attr('d', line)
      .attr('fill', 'none')
      .attr('stroke', lineColor)
      .attr('stroke-width', 1.4)
      .attr('stroke-linejoin', 'round');
  }

  // axes
  const xAxis = g.append('g')
    .attr('transform', 'translate(0,' + y1 + ')')
    .call(d3.axisBottom(x).tickValues(xTicks).tickSize(3.5).tickPadding(2).tickFormat(d3.format('d')));
  const yAxis = g.append('g')
    .attr('transform', 'translate(' + x0 + ',0)')
    .call(d3.axisLeft(y).tickValues(p.ticks).tickSize(3.5).tickPadding(3).tickFormat(d3.format('d')));

  [xAxis, yAxis].forEach(a => {
    a.select('.domain').remove();
    a.selectAll('line').attr('stroke', '#555');
    a.selectAll('text')
      .style('font-family', '"DejaVu Sans", sans-serif')
      .style('font-size', '9.5px')
      .attr('fill', '#333');
  });

  // frame
  g.append('rect')
    .attr('x', x0).attr('y', y0)
    .attr('width', x1 - x0).attr('height', y1 - y0)
    .attr('fill', 'none')
    .attr('stroke', '#7a7a7a')
    .attr('stroke-width', 1.2);

  // panel letter
  g.append('text')
    .attr('x', x0 - 1)
    .attr('y', y0 - 2)
    .style('font-family', '"Liberation Serif", "Times New Roman", serif')
    .style('font-size', '21px')
    .attr('fill', '#000')
    .text('(' + panelNames[i] + ')');
});

// axis captions
svg.append('text')
  .attr('transform', 'translate(29,439) rotate(-90)')
  .attr('text-anchor', 'middle')
  .style('font-family', '"Liberation Serif", "Times New Roman", serif')
  .style('font-size', '23px')
  .attr('fill', '#000')
  .text('Y-axis: Amplitude');

svg.append('text')
  .attr('x', 610)
  .attr('y', 837)
  .attr('text-anchor', 'middle')
  .style('font-family', '"Liberation Serif", "Times New Roman", serif')
  .style('font-size', '24px')
  .attr('fill', '#000')
  .text('X-axis: Time/s');
</script>
</body>
</html>
